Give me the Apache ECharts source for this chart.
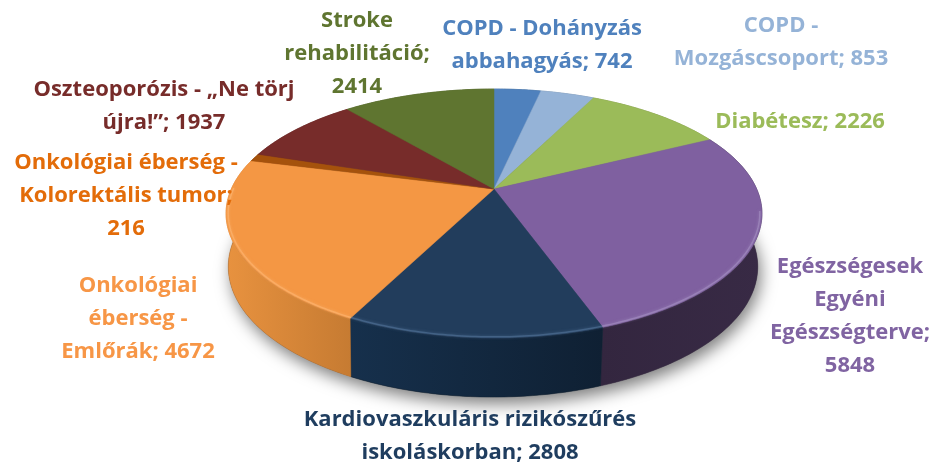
<!DOCTYPE html>
<html><head><meta charset="utf-8">
<style>html,body{margin:0;padding:0;background:#fff}#c{width:934px;height:463px}</style>
<script src="https://cdn.jsdelivr.net/npm/echarts@6/dist/echarts.min.js"></script>
</head><body><div id="c"></div>
<script>
const categories = ['COPD - Dohányzás\nabbahagyás','COPD -\nMozgáscsoport','Diabétesz','Egészségesek\nEgyéni\nEgészségterve','Kardiovaszkuláris rizikószűrés\niskoláskorban','Onkológiai\néberség -\nEmlőrák','Onkológiai éberség -\nKolorektális tumor','Oszteoporózis - „Ne törj\nújra!”','Stroke\nrehabilitáció'];
const values = [742,853,2226,5848,2808,4672,216,1937,2414];
const valueBreak = [' ',' ',' ','\n',' ',' ','\n',' ','\n'];
const topColors = ['#4f81bd','#95b3d7','#9bbb59','#7f60a0','#223d5c','#f49744','#a5520c','#772c2a','#5f7530'];
const textColors = ['#4f81bd','#95b3d7','#9bbb59','#8064a2','#1f3d5f','#f79646','#e36c09','#772c2a','#5f7530'];
const wallLeft = ['#3a6088','#6f869f','#74893f','#33263f','#16304c','#e8923f','#8a4508','#591f1e','#46571f'];
const wallRight = ['#3a6088','#6f869f','#74893f','#382a45','#0f2033','#c67b32','#8a4508','#591f1e','#46571f'];
const rimColors = [null,null,null,'#a893c4','#56769c','#fdb877',null,null,null];
const labelAnchors = [[542,45],[781,42],[800,122],[850,316],[470,436],[138,319],[126,196],[164,106],[357,54]];

const CX=494, CY=189, K=0.197, A=119.7, B=262.7;
const total = values.reduce((a,b)=>a+b,0);
const starts=[]; values.reduce((s,v,i)=>{starts[i]=s;return s+v;},0);
const ang = v => v/total*Math.PI*2;
function rawP(t,s){const f=1+K*Math.cos(t);return [B*Math.sin(t)/f*s, -A*Math.cos(t)/f*s];}
function topP(t,s=1){const p=rawP(t,s);return [CX+p[0],CY+p[1]];}
function botP(t){const p=rawP(t,1);return [CX+p[0]*0.988-1,CY+p[1]+52+0.047*p[1]];}
function arc(a0,a1,fn){const out=[],n=Math.max(2,Math.ceil((a1-a0)/0.015));for(let i=0;i<=n;i++)out.push(fn(a0+(a1-a0)*i/n));return out;}
function renderItem(params,api){
  const i=params.dataIndex, a0=ang(starts[i]), a1=ang(starts[i]+api.value(0));
  const ch=[];
  if(i===0){
    ch.push({type:'polygon',z2:0,shape:{points:arc(0,Math.PI*2,botP)},style:{fill:'#555',shadowColor:'rgba(0,0,0,0.5)',shadowBlur:16,shadowOffsetX:3,shadowOffsetY:7}});
  }
  const tArc=arc(a0,a1,t=>topP(t)), bArc=arc(a0,a1,botP);
  ch.push({type:'polygon',z2:1,shape:{points:tArc.concat(bArc.slice().reverse())},style:{
    fill:new echarts.graphic.LinearGradient(0,0,1,0,[{offset:0,color:wallLeft[i]},{offset:1,color:wallRight[i]}]),
    stroke:wallRight[i],lineWidth:0.5}});
  ch.push({type:'polygon',z2:2,shape:{points:[[CX,CY]].concat(tArc)},style:{fill:topColors[i],stroke:topColors[i],lineWidth:0.5}});
  if(rimColors[i]){
    const lo=Math.max(a0,1.75), hi=Math.min(a1,4.72);
    const rim=arc(lo,hi,t=>topP(t,0.992));
    ch.push({type:'polyline',z2:3,shape:{points:rim},style:{fill:null,stroke:rimColors[i],lineWidth:1.5,opacity:0.55,shadowColor:rimColors[i],shadowBlur:3}});
  }
  ch.push({type:'text',z2:4,style:{text:categories[i]+';'+valueBreak[i]+api.value(0),x:labelAnchors[i][0],y:labelAnchors[i][1],
    align:'center',verticalAlign:'middle',lineHeight:33,fill:textColors[i],font:'bold 22px "Open Sans"'}});
  return {type:'group',children:ch};
}
const chart=echarts.init(document.getElementById('c'),null,{renderer:'canvas'});
chart.setOption({animation:false,backgroundColor:'#fff',
  series:[{type:'custom',coordinateSystem:'none',renderItem,silent:true,
    data:values.map((v,i)=>({name:categories[i],value:[v]}))}]});
</script></body></html>
